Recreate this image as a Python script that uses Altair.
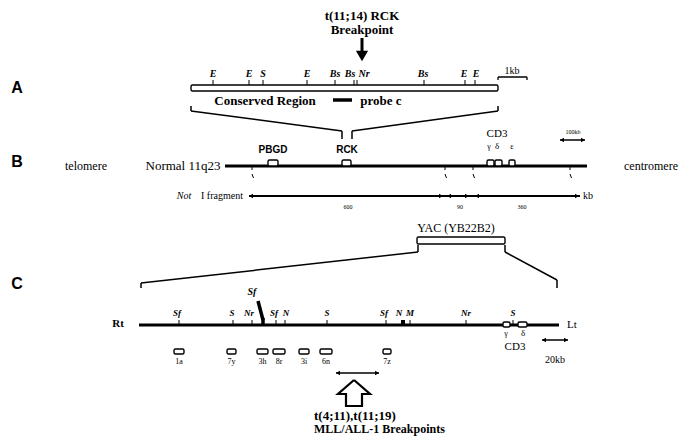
import altair as alt
import pandas as pd

# ---------------- data (diagram positions in page pixels) ----------------
# Panel A: restriction sites of the conserved region
a_sites = ["E", "E", "S", "E", "Bs", "Bs", "Nr", "Bs", "E", "E"]
a_site_x = [213, 249, 263, 307, 335, 354, 357, 424, 465, 475]
a_label_x = [213, 249, 263, 307, 335, 350, 364, 423, 464, 476]

# Panel B: genes on normal 11q23 and NotI sites
b_genes = ["PBGD", "RCK", "γ", "δ", "ε"]
b_gene_x1 = [268, 342, 487, 495, 509]
b_gene_x2 = [278, 351, 494, 502, 515]
b_noti_x = [252, 445, 473, 570]
b_fragments = ["600", "90", "360"]
b_fragment_x = [348, 460, 522]

# Panel C: YAC restriction map
c_sites = ["Sf", "S", "Nr", "Sf", "N", "S", "Sf", "N", "M", "Nr", "S"]
c_site_x = [179, 233, 252, 276, 285, 327, 386, 403, 410, 466, 513]
c_label_x = [177, 232, 249, 274, 286, 327, 384, 399, 410, 466, 513]
c_probes = ["1a", "7y", "3h", "8r", "3i", "6n", "7z"]
c_probe_x1 = [174, 227, 257, 273, 299, 320, 383]
c_probe_x2 = [184, 236, 268, 285, 309, 332, 391]
c_cd3 = ["γ", "δ"]
c_cd3_x1 = [503, 518]
c_cd3_x2 = [510, 527]

# ---------------- build tables ----------------
rules = []  # x, y, x2, y2, w


def seg(x, y, x2, y2, w=1.0):
    rules.append(dict(x=x, y=y, x2=x2, y2=y2, w=w))


# Panel A
seg(362, 38, 362, 52, 3)                       # breakpoint arrow shaft
for sx in a_site_x:
    seg(sx, 80, sx, 85, 1)
seg(498, 77, 527, 77, 1.5)
seg(498, 77, 498, 80, 1.3)
seg(527, 77, 527, 80, 1.3)
seg(333, 100, 352, 100, 3.5)                   # probe c
seg(191, 106, 191, 111, 1.5)
seg(191, 111, 342, 131, 1.5)
seg(342, 131, 342, 139, 1.5)
seg(498, 106, 498, 111, 1.5)
seg(498, 111, 352, 131, 1.5)
seg(352, 131, 352, 139, 1.5)

# Panel B
seg(225, 166, 587, 166, 3)
for nx in b_noti_x:
    seg(nx, 166, nx, 170, 1)
    seg(nx, 174, nx + 1.5, 178, 1)
seg(249, 196, 580, 196, 1.8)
seg(560, 140, 585, 140, 1.5)

# Panel C
seg(141, 288, 141, 283, 1.5)
seg(141, 283, 418, 252, 1.5)
seg(418, 252, 418, 245, 1.5)
seg(505, 245, 505, 252, 1.5)
seg(505, 252, 557, 280, 1.5)
seg(557, 280, 557, 288, 1.5)
seg(139, 325, 559, 325, 3)
for sx, s in zip(c_site_x, c_sites):
    if sx != 403:
        seg(sx, 320, sx, 325, 1)
seg(403, 320, 403, 325, 4)
seg(258, 301, 263, 320, 3.5)                   # slanted Sf
seg(263, 318, 263, 325, 3.5)
seg(542, 340, 568, 340, 1.5)
seg(336, 373, 379, 373, 1.5)

rules_df = pd.DataFrame(rules)

boxes = []
boxes.append(dict(x=191, x2=498, y=85, y2=91))
for a, b in zip(b_gene_x1, b_gene_x2):
    boxes.append(dict(x=a, x2=b, y=160, y2=166))
boxes.append(dict(x=417, x2=505, y=237, y2=244))
for a, b in zip(c_cd3_x1, c_cd3_x2):
    boxes.append(dict(x=a, x2=b, y=322, y2=327))
for a, b in zip(c_probe_x1, c_probe_x2):
    boxes.append(dict(x=a, x2=b, y=349, y2=354))
boxes_df = pd.DataFrame(boxes)

heads = [
    dict(x=362, y=56, shape="triangle-down", s=150),
    dict(x=251, y=196, shape="triangle-left", s=22),
    dict(x=441, y=196, shape="triangle-right", s=22),
    dict(x=449, y=196, shape="triangle-left", s=22),
    dict(x=467, y=196, shape="triangle-right", s=22),
    dict(x=477, y=196, shape="triangle-left", s=22),
    dict(x=577, y=196, shape="triangle-right", s=22),
    dict(x=562, y=140, shape="triangle-left", s=22),
    dict(x=583, y=140, shape="triangle-right", s=22),
    dict(x=544, y=340, shape="triangle-left", s=22),
    dict(x=566, y=340, shape="triangle-right", s=22),
    dict(x=338, y=373, shape="triangle-left", s=22),
    dict(x=377, y=373, shape="triangle-right", s=22),
]
heads_df = pd.DataFrame(heads)

hollow_arrow = pd.DataFrame(dict(
    x=[354, 370, 362, 362, 346, 346, 338, 354],
    y=[380, 394, 394, 406, 406, 394, 394, 380],
    o=list(range(8)),
))

serif_txt = pd.DataFrame([
    ("1kb", 512, 71, 10), ("telomere", 86, 166, 12), ("Normal 11q23", 183, 166, 13),
    ("centromere", 651, 166, 12), ("CD3", 497, 134, 11),
    ("γ", 489, 147, 8), ("δ", 497, 146, 9), ("ε", 512, 147, 8),
    ("100kb", 573, 132, 6), ("I fragment", 222, 196, 10), ("kb", 588, 196, 10),
    (b_fragments[0], b_fragment_x[0], 207, 6), (b_fragments[1], b_fragment_x[1], 207, 6),
    (b_fragments[2], b_fragment_x[2], 207, 6),
    ("YAC (YB22B2)", 456, 228, 12), ("Lt", 572, 325, 11),
    ("γ", 506, 334, 8), ("δ", 523, 333, 9), ("CD3", 515, 347, 11), ("20kb", 555, 360, 10),
] + [(p, (a + b) / 2, 362, 8) for p, a, b in zip(c_probes, c_probe_x1, c_probe_x2)],
    columns=["t", "x", "y", "s"])

bold_serif_txt = pd.DataFrame([
    ("t(11;14) RCK", 362, 16, 13), ("Breakpoint", 362, 30, 13),
    ("Conserved Region", 265, 101, 13), ("probe c", 381, 101, 13), ("Rt", 118, 324, 11),
], columns=["t", "x", "y", "s"])

bottom_txt = pd.DataFrame([
    ("t(4;11),t(11;19)", 314, 416, 13), ("MLL/ALL-1 Breakpoints", 314, 429, 12),
], columns=["t", "x", "y", "s"])

sans_txt = pd.DataFrame([
    ("A", 17, 88, 16), ("B", 17, 162, 16), ("C", 17, 284, 16),
    ("PBGD", 273, 150, 10), ("RCK", 347, 150, 10),
], columns=["t", "x", "y", "s"])

italic_txt = pd.DataFrame(
    [(s, x, 74, 10) for s, x in zip(a_sites, a_label_x)]
    + [(s, x, 313, 9) for s, x in zip(c_sites, c_label_x)]
    + [("Sf", 252, 292, 10)],
    columns=["t", "x", "y", "s"])

not_txt = pd.DataFrame([("Not", 184, 196, 10)], columns=["t", "x", "y", "s"])

# ---------------- chart ----------------
XS = alt.Scale(domain=[8, 687], nice=False, zero=False)
YS = alt.Scale(domain=[8, 437], reverse=True, nice=False, zero=False)


def xy(xf="x", yf="y"):
    return dict(x=alt.X(f"{xf}:Q", scale=XS, axis=None),
                y=alt.Y(f"{yf}:Q", scale=YS, axis=None))


rule_layer = alt.Chart(rules_df).mark_rule(color="black", strokeCap="butt").encode(
    **xy(), x2="x2:Q", y2="y2:Q", strokeWidth=alt.StrokeWidth("w:Q", scale=None))

box_layer = alt.Chart(boxes_df).mark_rect(
    fill="white", stroke="black", strokeWidth=1.4, cornerRadius=1.5).encode(
    **xy(), x2="x2:Q", y2="y2:Q")

head_layer = alt.Chart(heads_df).mark_point(filled=True, color="black", opacity=1).encode(
    **xy(), shape=alt.Shape("shape:N", scale=None), size=alt.Size("s:Q", scale=None))

hollow_layer = alt.Chart(hollow_arrow).mark_line(
    color="black", strokeWidth=2.2, strokeJoin="miter").encode(**xy(), order="o:Q")


def text_layer(df, font, weight="normal", style="normal", align="center"):
    return alt.Chart(df).mark_text(
        font=font, fontWeight=weight, fontStyle=style, align=align,
        baseline="middle", color="black").encode(
        **xy(), text="t:N", size=alt.Size("s:Q", scale=None))


chart = alt.layer(
    rule_layer, box_layer, head_layer, hollow_layer,
    text_layer(serif_txt, "Liberation Serif"),
    text_layer(bold_serif_txt, "Liberation Serif", weight="bold"),
    text_layer(bottom_txt, "Liberation Serif", weight="bold", align="left"),
    text_layer(sans_txt, "Liberation Sans", weight="bold"),
    text_layer(italic_txt, "Liberation Serif", weight="bold", style="italic"),
    text_layer(not_txt, "Liberation Serif", style="italic"),
).properties(
    width=679, height=429, autosize="none", padding=0, background="white"
).configure_view(stroke=None)

chart.save("out.html", embed_options={"renderer": "svg", "actions": False})
